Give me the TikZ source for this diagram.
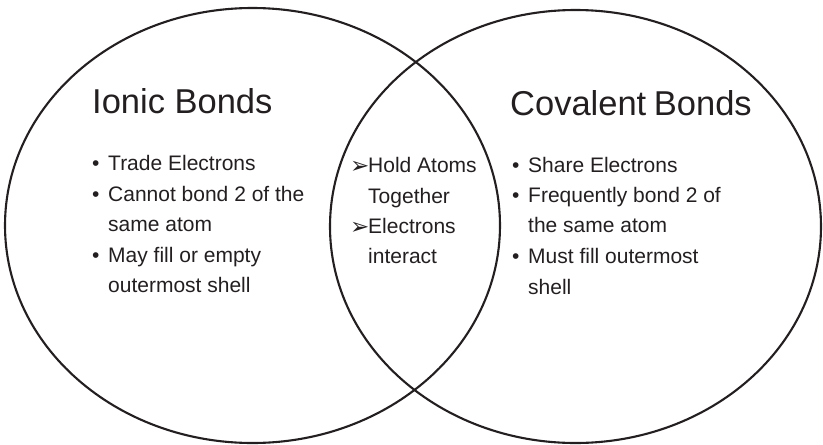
\documentclass[tikz,border=0pt]{standalone}
\usepackage{fontspec}
\setmainfont{Liberation Sans}
\newfontfamily\symfont{DejaVu Sans}
\definecolor{ink}{HTML}{231F20}
\begin{document}
\begin{tikzpicture}[x=1pt,y=-1pt,
  ring/.style={draw=ink,line width=2.1pt},
  ttl/.style={anchor=base west,inner sep=0pt,text=ink,font=\fontsize{34.5}{40}\selectfont},
  txt/.style={anchor=base west,inner sep=0pt,text=ink,font=\fontsize{21}{25}\selectfont},
  arr/.style={anchor=base west,inner sep=0pt,text=ink,font=\symfont\fontsize{23}{26}\selectfont}]
\useasboundingbox (0,0) rectangle (823,445);
\draw[ring] (252.5,225.5) ellipse [x radius=247.5, y radius=217.5];
\draw[ring] (575.5,226.5) ellipse [x radius=245.5, y radius=216.5];
% titles
\node[ttl] (t1) at (92,113) {Ionic Bonds};
\node[ttl] (t2) at (510,115) {Covalent\hspace{-2pt} Bonds};
% left
\node[txt] (lb1) at (92,170) {•};
\node[txt] (la1) at (108,170) {Trade Electrons};
\node[txt] (lb2) at (92,201) {•};
\node[txt] (la2) at (108,201) {Cannot bond 2 of the};
\node[txt] (la3) at (108,231) {same atom};
\node[txt] (lb3) at (92,262) {•};
\node[txt] (la4) at (108,262) {May fill or empty};
\node[txt] (la5) at (108,292) {outermost shell};
% middle
\node[arr] (mb1) at (350,173) {➢};
\node[txt] (ma1) at (368,172) {Hold Atoms};
\node[txt] (ma2) at (368,203) {Together};
\node[arr] (mb2) at (350,234) {➢};
\node[txt] (ma3) at (368,233) {Electrons};
\node[txt] (ma4) at (368,263) {interact};
% right
\node[txt] (rb1) at (512,172) {•};
\node[txt] (ra1) at (528,172) {Share Electrons};
\node[txt] (rb2) at (512,202) {•};
\node[txt] (ra2) at (528,202) {Frequently bond 2 of};
\node[txt] (ra3) at (528,232) {the same atom};
\node[txt] (rb3) at (512,263) {•};
\node[txt] (ra4) at (528,263) {Must fill outermost};
\node[txt] (ra5) at (528,294) {shell};
\end{tikzpicture}
\end{document}
